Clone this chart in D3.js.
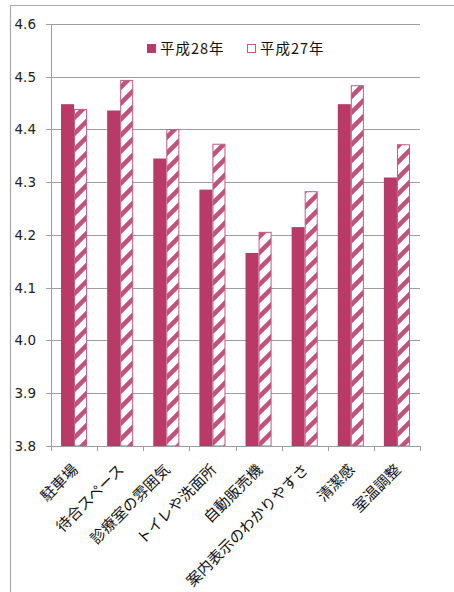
<!DOCTYPE html>
<html><head><meta charset="utf-8">
<script src="https://cdn.jsdelivr.net/npm/d3@7/dist/d3.min.js"></script>
<style>
html,body{margin:0;padding:0;background:#fff;}
svg{display:block;}
</style></head>
<body>
<script>
const categories = ["駐車場","待合スペース","診療室の雰囲気","トイレや洗面所","自動販売機","案内表示のわかりやすさ","清潔感","室温調整"];
const seriesNames = ["平成28年","平成27年"];
const valuesH28 = [4.448,4.436,4.345,4.286,4.166,4.215,4.448,4.309];
const valuesH27 = [4.439,4.494,4.401,4.373,4.206,4.283,4.484,4.372];
const yTicks = [3.8,3.9,4.0,4.1,4.2,4.3,4.4,4.5,4.6];

const W = 454, H = 592;
const color = "#BA3A67";
const svg = d3.select("body").append("svg").attr("width", W).attr("height", H);

const defs = svg.append("defs");
const pat = defs.append("pattern").attr("id","hatch").attr("patternUnits","userSpaceOnUse")
  .attr("width",16).attr("height",16);
pat.append("rect").attr("width",16).attr("height",16).attr("fill","#fff");
pat.append("path").attr("d","M-4,4 L4,-4 M0,16 L16,0 M12,20 L20,12")
  .attr("stroke","#C2517C").attr("stroke-width",4.5);

// outer border
svg.append("path").attr("d","M10.5,"+H+" V5.5 H"+W).attr("fill","none").attr("stroke","#a8a8a8").attr("stroke-width",1.2);

const x = d3.scaleBand().domain(categories).range([51,420]).padding(0);
const xs = d3.scaleBand().domain(seriesNames).range([0,x.bandwidth()]).paddingInner(0).paddingOuter(0.77);
const y = d3.scaleLinear().domain([3.8,4.6]).range([446,24]);

// gridlines
svg.append("g").selectAll("line").data(yTicks).join("line")
  .attr("x1",46).attr("x2",420)
  .attr("y1",d=>Math.round(y(d))+0.5).attr("y2",d=>Math.round(y(d))+0.5)
  .attr("stroke","#9e9e9e").attr("stroke-width",1);

// y axis
const yAxis = d3.axisLeft(y).tickValues(yTicks).tickFormat(d3.format(".1f")).tickSize(0).tickPadding(0);
const gy = svg.append("g").attr("transform","translate(51,0)").call(yAxis);
gy.select(".domain").remove();
gy.selectAll("text").attr("x",-15).attr("font-family","DejaVu Sans, Verdana, sans-serif").attr("font-size",13.5).attr("fill","#222");
svg.append("line").attr("x1",51.5).attr("x2",51.5).attr("y1",24).attr("y2",446).attr("stroke","#9e9e9e");

// bars
const data = categories.map((c,i)=>({c, v28:valuesH28[i], v27:valuesH27[i]}));
svg.append("g").selectAll("rect").data(data).join("rect")
  .attr("x",d=>x(d.c)+xs("平成28年")).attr("width",xs.bandwidth())
  .attr("y",d=>y(d.v28)).attr("height",d=>y(3.8)-y(d.v28))
  .attr("fill",color);
svg.append("g").selectAll("rect").data(data).join("rect")
  .attr("x",d=>x(d.c)+xs("平成27年")+0.5).attr("width",xs.bandwidth()-1)
  .attr("y",d=>y(d.v27)+0.5).attr("height",d=>y(3.8)-y(d.v27)-0.5)
  .attr("fill","url(#hatch)").attr("stroke","#C8587F").attr("stroke-width",1);

// x axis
const gx = svg.append("g").attr("transform","translate(0,446)");
gx.append("line").attr("x1",51).attr("x2",420).attr("y1",0.5).attr("y2",0.5).attr("stroke","#9e9e9e");
gx.selectAll("line.tk").data(d3.range(categories.length+1)).join("line").attr("class","tk")
  .attr("x1",i=>Math.round(51+i*x.step())+0.5).attr("x2",i=>Math.round(51+i*x.step())+0.5)
  .attr("y1",0).attr("y2",5).attr("stroke","#9e9e9e");
gx.selectAll("text").data(categories).join("text")
  .attr("transform",d=>`translate(${x(d)+x.bandwidth()/2+1},${21}) rotate(-45)`)
  .attr("text-anchor","end").attr("dy","0.35em")
  .attr("font-family","Noto Sans CJK JP, sans-serif").attr("font-size",15).attr("fill","#111")
  .text(d=>d);

// legend
const lg = svg.append("g");
const lfont = {"font-family":"Noto Sans CJK JP, sans-serif","font-size":14.5,"fill":"#111","letter-spacing":"1px"};
lg.append("rect").attr("x",147).attr("y",44).attr("width",9).attr("height",9).attr("fill",color);
const t1 = lg.append("text").attr("x",160).attr("y",48.5).attr("dy","0.35em").text(seriesNames[0]);
lg.append("rect").attr("x",247.5).attr("y",44.5).attr("width",8).attr("height",8).attr("fill","#fff").attr("stroke","#C8587F");
const t2 = lg.append("text").attr("x",260).attr("y",48.5).attr("dy","0.35em").text(seriesNames[1]);
for (const [k,v] of Object.entries(lfont)) { t1.attr(k,v); t2.attr(k,v); }
</script>
</body></html>
